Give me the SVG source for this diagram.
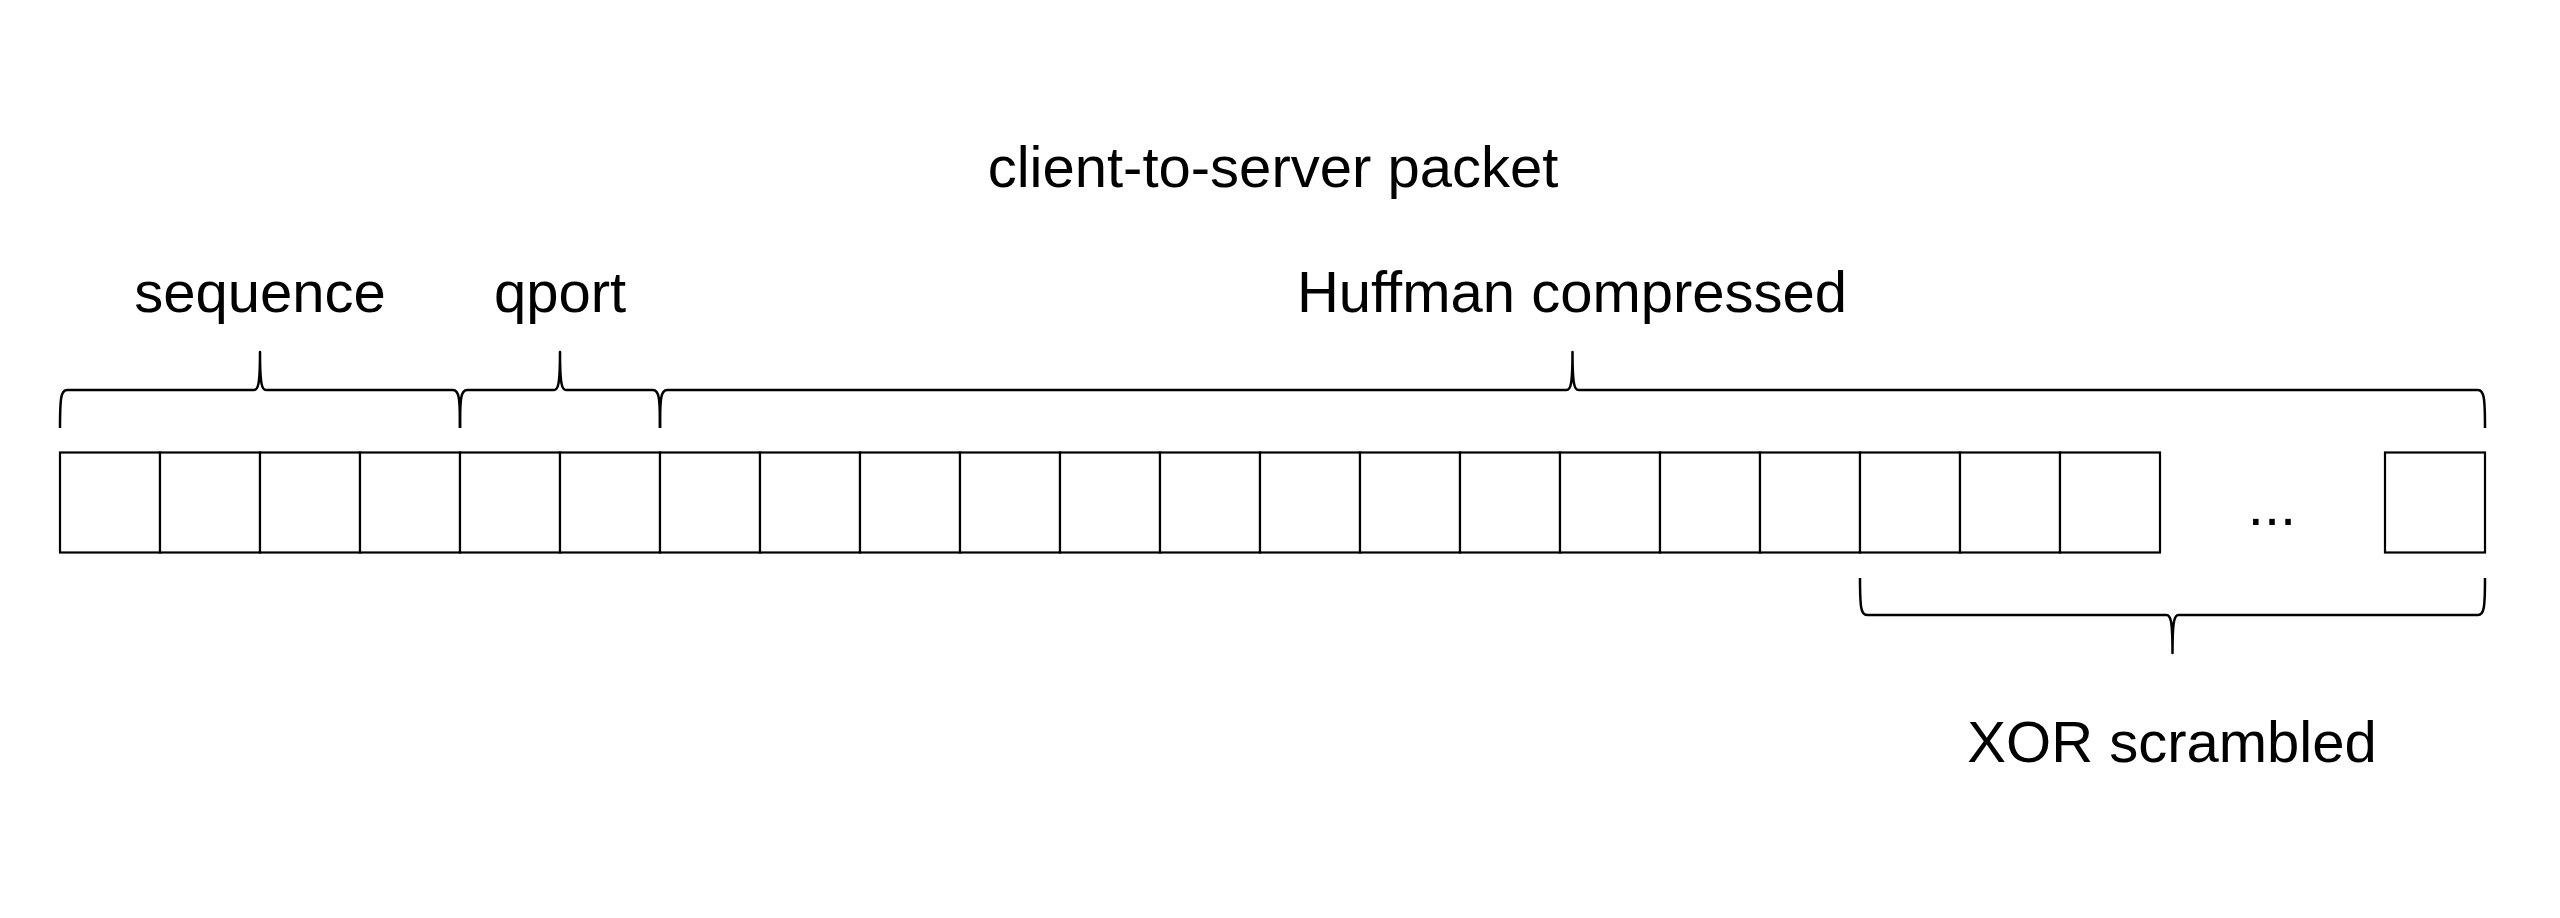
<svg xmlns="http://www.w3.org/2000/svg" width="2560" height="918" viewBox="0 0 2560 918">
<style>
.cell{fill:#fff;stroke:#000;stroke-width:2.2}
.br{fill:none;stroke:#000;stroke-width:2.5;stroke-linejoin:round}
text{font-family:"Liberation Sans",Arial,sans-serif;font-size:58px;fill:#000;text-anchor:middle}
</style>
<rect width="2560" height="918" fill="#fff"/>
<g id="title"><text x="1273" y="187">client-to-server packet</text></g>
<g id="cells">
<rect class="cell" x="60" y="452.5" width="100" height="100"/>
<rect class="cell" x="160" y="452.5" width="100" height="100"/>
<rect class="cell" x="260" y="452.5" width="100" height="100"/>
<rect class="cell" x="360" y="452.5" width="100" height="100"/>
<rect class="cell" x="460" y="452.5" width="100" height="100"/>
<rect class="cell" x="560" y="452.5" width="100" height="100"/>
<rect class="cell" x="660" y="452.5" width="100" height="100"/>
<rect class="cell" x="760" y="452.5" width="100" height="100"/>
<rect class="cell" x="860" y="452.5" width="100" height="100"/>
<rect class="cell" x="960" y="452.5" width="100" height="100"/>
<rect class="cell" x="1060" y="452.5" width="100" height="100"/>
<rect class="cell" x="1160" y="452.5" width="100" height="100"/>
<rect class="cell" x="1260" y="452.5" width="100" height="100"/>
<rect class="cell" x="1360" y="452.5" width="100" height="100"/>
<rect class="cell" x="1460" y="452.5" width="100" height="100"/>
<rect class="cell" x="1560" y="452.5" width="100" height="100"/>
<rect class="cell" x="1660" y="452.5" width="100" height="100"/>
<rect class="cell" x="1760" y="452.5" width="100" height="100"/>
<rect class="cell" x="1860" y="452.5" width="100" height="100"/>
<rect class="cell" x="1960" y="452.5" width="100" height="100"/>
<rect class="cell" x="2060" y="452.5" width="100" height="100"/>
<text x="2272" y="525">...</text>
<rect class="cell" x="2385" y="452.5" width="100" height="100"/>
</g>
<g id="sequence">
<path class="br" d="M60,428 C60,398 61,390 67,390 L254,390 C258,390 260,385 260,352 C260,385 262,390 266,390 L453,390 C459,390 460,398 460,428"/>
<text x="260" y="312">sequence</text>
</g>
<g id="qport">
<path class="br" d="M460,428 C460,398 461,390 467,390 L554,390 C558,390 560,385 560,352 C560,385 562,390 566,390 L653,390 C659,390 660,398 660,428"/>
<text x="560" y="312">qport</text>
</g>
<g id="huffman">
<path class="br" d="M660,428 C660,398 661,390 667,390 L1566.5,390 C1570.5,390 1572.5,385 1572.5,352 C1572.5,385 1574.5,390 1578.5,390 L2478,390 C2484,390 2485,398 2485,428"/>
<text x="1572" y="312">Huffman compressed</text>
</g>
<g id="xor">
<path class="br" d="M1860,578 C1860,608 1861,615 1867,615 L2166.5,615 C2170.5,615 2172.5,620 2172.5,653 C2172.5,620 2174.5,615 2178.5,615 L2478,615 C2484,615 2485,608 2485,578"/>
<text x="2172" y="762">XOR scrambled</text>
</g>
</svg>
